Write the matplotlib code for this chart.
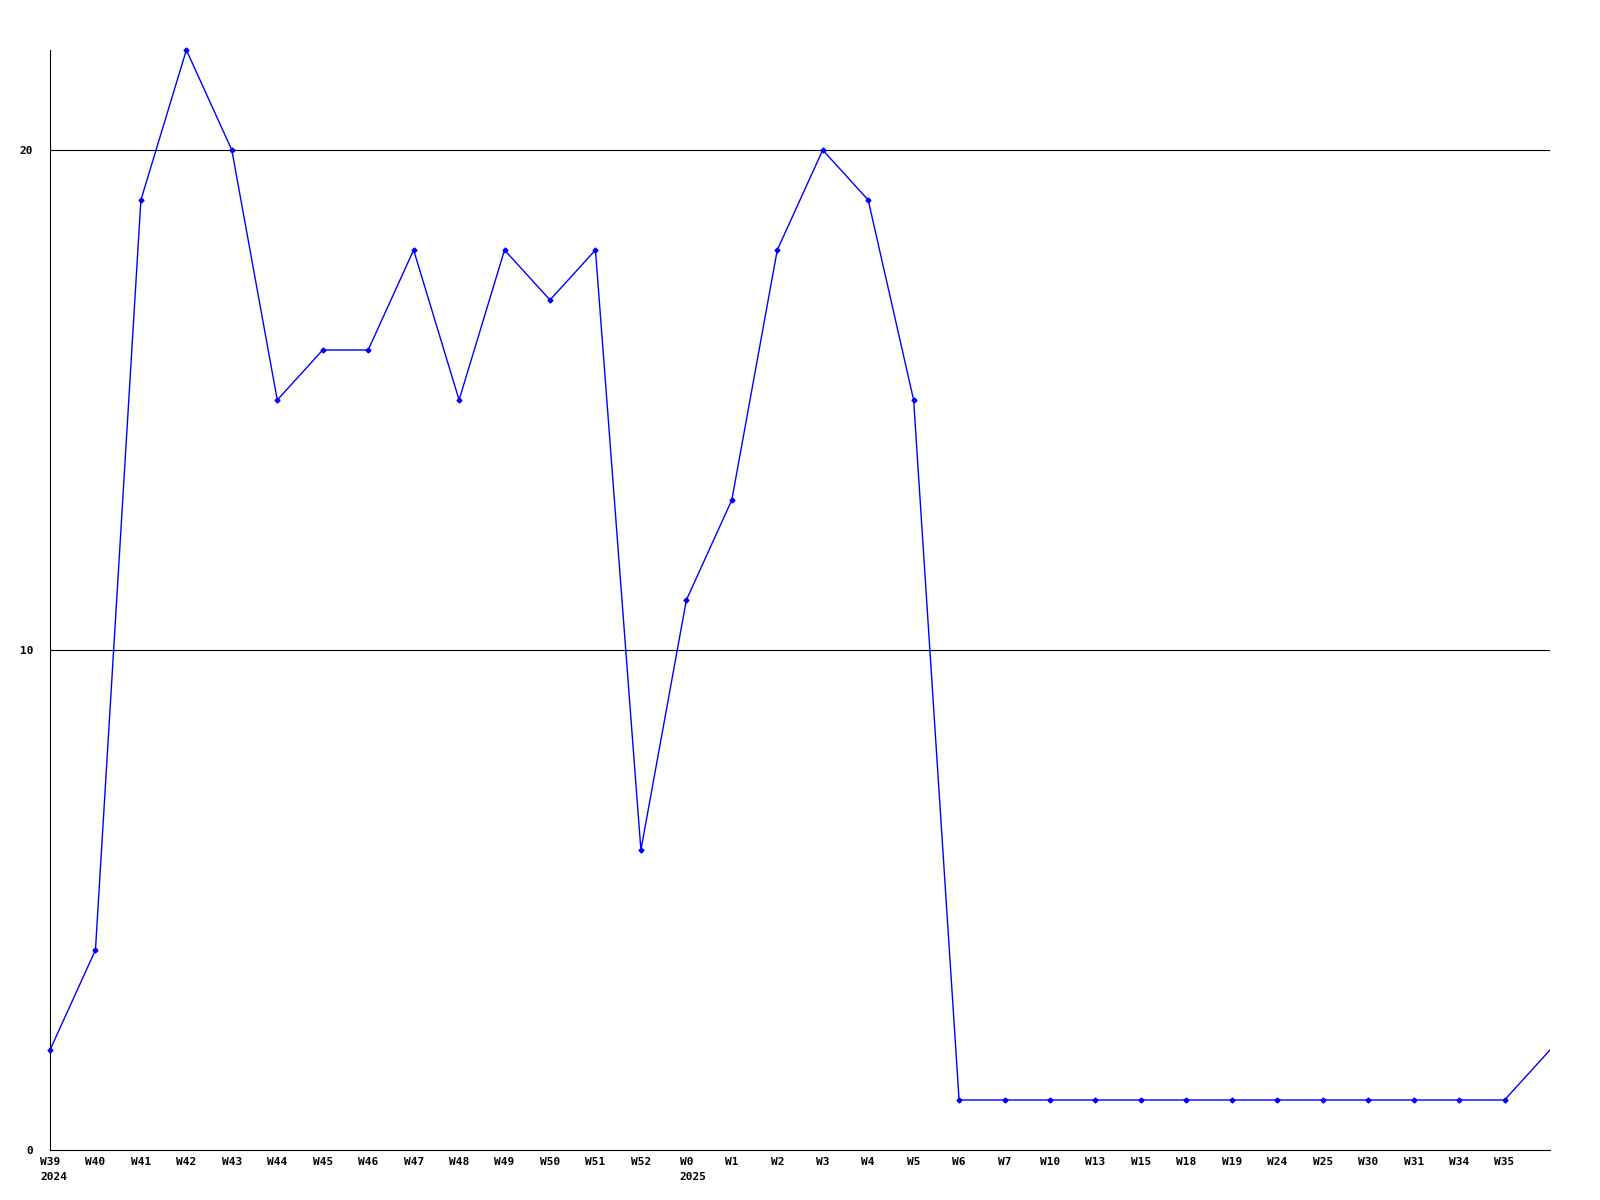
import matplotlib.pyplot as plt
import numpy as np

# weekly values
weeks = ["W39", "W40", "W41", "W42", "W43", "W44", "W45", "W46", "W47", "W48",
         "W49", "W50", "W51", "W52", "W0", "W1", "W2", "W3", "W4", "W5",
         "W6", "W7", "W10", "W13", "W15", "W18", "W19", "W24", "W25", "W30",
         "W31", "W34", "W35"]
values = [2, 4, 19, 22, 20, 15, 16, 16, 18, 15,
          18, 17, 18, 6, 11, 13, 18, 20, 19, 15,
          1, 1, 1, 1, 1, 1, 1, 1, 1, 1,
          1, 1, 1]
# trailing point at the right edge (no label)
last_value = 2
years = {"W39": "2024", "W0": "2025"}

fs = 8
plt.rcParams['font.family'] = ['DejaVu Sans Mono']
plt.rcParams['font.weight'] = 'bold'

fig = plt.figure(figsize=(16, 12), dpi=100)
ax = fig.add_axes([0.03125, 0.04167, 0.9375, 0.91666])

x = np.arange(len(weeks))
ax.plot(list(x) + [len(weeks)], values + [last_value], color=(0, 0, 1), lw=1, zorder=3)
ax.plot(x, values, ls='none', marker='D', ms=2.5, color=(0, 0, 1), clip_on=False, zorder=4)

ax.set_xlim(0, len(weeks))
ax.set_ylim(0, 22)

ax.set_yticks([0, 10, 20])
ax.set_yticklabels(["0", "10", "20"], fontsize=fs, fontweight='bold')
ax.set_xticks(x)
ax.set_xticklabels(weeks, fontsize=fs, fontweight='bold')
ax.tick_params(axis='both', length=0)
ax.tick_params(axis='x', pad=5)
ax.tick_params(axis='y', pad=12)

for v in [10, 20]:
    ax.axhline(v, color='black', lw=0.8, zorder=1)

for i, w in enumerate(weeks):
    if w in years:
        dx = -len(w) * 0.6 * fs / 2
        ax.annotate(years[w], xy=(i, 0), xycoords=('data', 'axes fraction'),
                    xytext=(dx, -19.5), textcoords='offset points',
                    ha='left', va='center', fontsize=fs, fontweight='bold',
                    annotation_clip=False)

ax.spines['top'].set_visible(False)
ax.spines['right'].set_visible(False)
ax.spines['left'].set_linewidth(0.8)
ax.spines['bottom'].set_linewidth(0.8)

plt.savefig("out.png", dpi=100)
